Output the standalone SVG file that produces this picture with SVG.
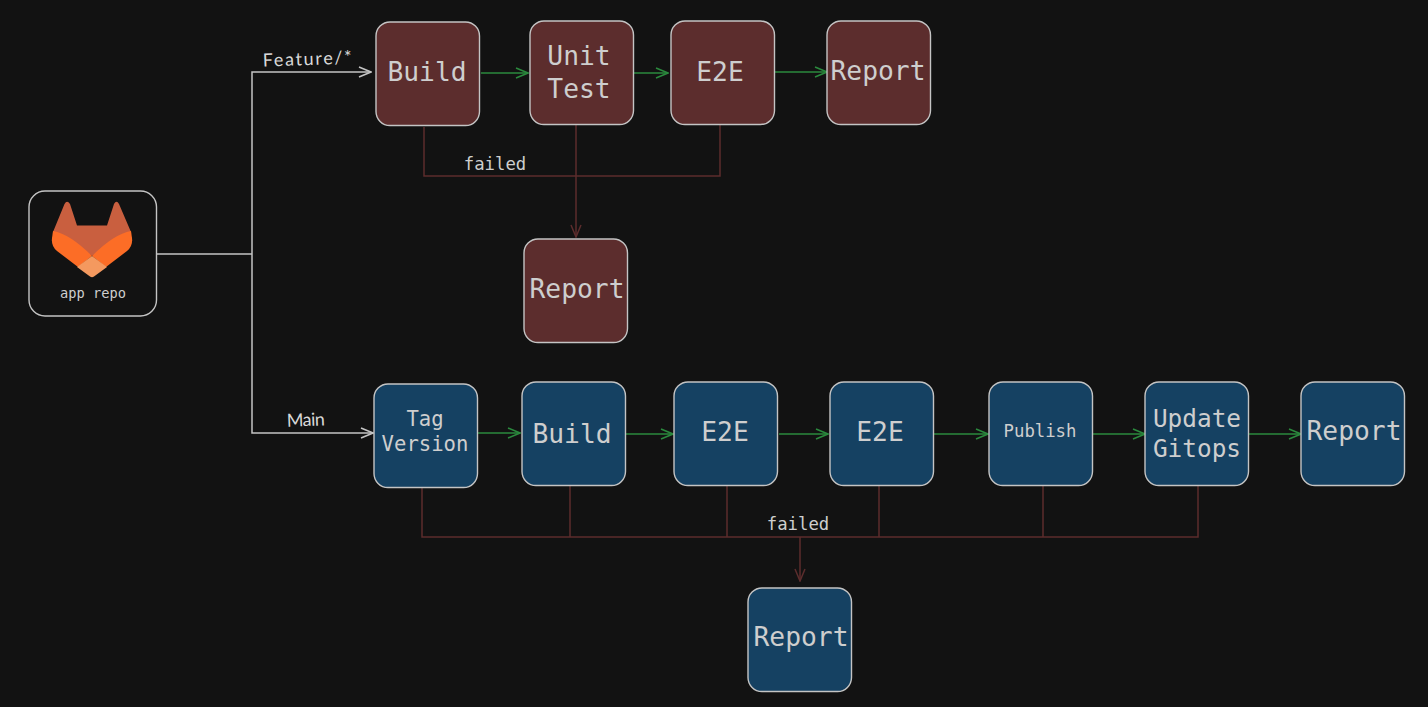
<svg xmlns="http://www.w3.org/2000/svg" width="1428" height="707" viewBox="0 0 1428 707">
<style>
.n{stroke:#c4c4c4;stroke-width:1.4}
.r{fill:#5c2d2d}
.b{fill:#154162}
text{fill:#cecece;font-family:"DejaVu Sans Mono","Liberation Mono",monospace;text-anchor:middle}
.t26{font-size:26.300px}
.t24{font-size:24.400px}
.t20{font-size:20.600px}
.t17{font-size:17.300px}
.hand{font-family:"Lato","Noto Sans",sans-serif;font-size:18px;fill:#d8d8d8}
.w{fill:none;stroke:#c4c4c4;stroke-width:1.5}
.g{fill:none;stroke:#2b8a3e;stroke-width:1.5}
.d{fill:none;stroke:#5c2d2d;stroke-width:1.5}
</style>
<defs>
<marker id="aw" markerUnits="userSpaceOnUse" viewBox="0 0 14 12" refX="13" refY="6" markerWidth="14" markerHeight="12" orient="auto"><path d="M1 1 L13 6 L1 11" fill="none" stroke="#c4c4c4" stroke-width="1.5"/></marker>
<marker id="ag" markerUnits="userSpaceOnUse" viewBox="0 0 14 12" refX="13" refY="6" markerWidth="14" markerHeight="12" orient="auto"><path d="M1 1 L13 6 L1 11" fill="none" stroke="#2b8a3e" stroke-width="1.5"/></marker>
<marker id="ad" markerUnits="userSpaceOnUse" viewBox="0 0 14 12" refX="13" refY="6" markerWidth="14" markerHeight="12" orient="auto"><path d="M1 1 L13 6 L1 11" fill="none" stroke="#5c2d2d" stroke-width="1.5"/></marker>
</defs>
<rect width="1428" height="707" fill="#121212"/>
<g id="connectors">
<path class="w" d="M157 254 H252"/>
<path class="w" d="M252 254 V72 H371" marker-end="url(#aw)"/>
<path class="w" d="M252 254 V433 H373" marker-end="url(#aw)"/>
<path class="g" d="M481 73 H528" marker-end="url(#ag)"/>
<path class="g" d="M634 73 H668" marker-end="url(#ag)"/>
<path class="g" d="M775 72 H827" marker-end="url(#ag)"/>
<path class="g" d="M477 433 H520" marker-end="url(#ag)"/>
<path class="g" d="M626 434 H673" marker-end="url(#ag)"/>
<path class="g" d="M779 434 H828" marker-end="url(#ag)"/>
<path class="g" d="M934 434 H988" marker-end="url(#ag)"/>
<path class="g" d="M1093 434 H1145" marker-end="url(#ag)"/>
<path class="g" d="M1249 434 H1301" marker-end="url(#ag)"/>
<path class="d" d="M424 127 V176 H720 V125"/>
<path class="d" d="M576 125 V237" marker-end="url(#ad)"/>
<path class="d" d="M422 488 V537 H1198 V486"/>
<path class="d" d="M570 486 V537"/>
<path class="d" d="M727 486 V537"/>
<path class="d" d="M879 486 V537"/>
<path class="d" d="M1043 486 V537"/>
<path class="d" d="M800 537 V581" marker-end="url(#ad)"/>
<text class="hand" x="307.500" y="65" textLength="89" lengthAdjust="spacing" transform="rotate(-2 308 64)">Feature/*</text>
<text class="hand" x="306" y="426" textLength="38" lengthAdjust="spacing" transform="rotate(-2 306 426)">Main</text>
<text class="t17" x="495" y="170">failed</text>
<text class="t17" x="798" y="530">failed</text>
</g>
<g id="node-app-repo">
<rect x="29" y="191" width="127.500" height="125" rx="16" fill="#121212" class="n"/>
<path d="M53 232 L64.500 204 Q67 199.500 70 204 L77 225.500 H107 L114 204 Q116.500 199.500 119 204 L131 232 L92 256 Z" fill="#c95f3f"/>
<path d="M53 231 Q70 234 92 256 L78 267 L57 251 Q51 246 52 238 Z" fill="#fc6d26"/>
<path d="M131 231 Q114 234 92 256 L106 267 L127 251 Q133 246 132 238 Z" fill="#fc6d26"/>
<path d="M92 256 L107 267 L94 276.500 Q92 278 90 276.500 L77 267 Z" fill="#f4995f"/>
<text x="93" y="298" font-size="13.700">app repo</text>
</g>
<g id="node-build-f"><rect class="n r" x="376" y="22" width="103.500" height="103.500" rx="14"/><text class="t26" x="427" y="81">Build</text></g>
<g id="node-unit-test"><rect class="n r" x="530" y="21" width="103.500" height="103.500" rx="14"/><text class="t26" x="579" y="65">Unit</text><text class="t26" x="579" y="98">Test</text></g>
<g id="node-e2e-f"><rect class="n r" x="671" y="21" width="103.500" height="103.500" rx="14"/><text class="t26" x="720" y="81">E2E</text></g>
<g id="node-report-f"><rect class="n r" x="827" y="21" width="103.500" height="103.500" rx="14"/><text class="t26" x="878" y="80">Report</text></g>
<g id="node-report-ff"><rect class="n r" x="524" y="239" width="103.500" height="103.500" rx="14"/><text class="t26" x="577" y="298">Report</text></g>
<g id="node-tag"><rect class="n b" x="374" y="384" width="103.500" height="103.500" rx="14"/><text class="t20" x="425" y="426">Tag</text><text class="t20" x="425" y="451">Version</text></g>
<g id="node-build-m"><rect class="n b" x="522" y="382" width="103.500" height="103.500" rx="14"/><text class="t26" x="572" y="443">Build</text></g>
<g id="node-e2e-m1"><rect class="n b" x="674" y="382" width="103.500" height="103.500" rx="14"/><text class="t26" x="725" y="441">E2E</text></g>
<g id="node-e2e-m2"><rect class="n b" x="830" y="382" width="103.500" height="103.500" rx="14"/><text class="t26" x="880" y="441">E2E</text></g>
<g id="node-publish"><rect class="n b" x="989" y="382" width="103.500" height="103.500" rx="14"/><text class="t17" x="1040" y="437">Publish</text></g>
<g id="node-gitops"><rect class="n b" x="1145" y="382" width="103.500" height="103.500" rx="14"/><text class="t24" x="1197" y="427">Update</text><text class="t24" x="1197" y="457">Gitops</text></g>
<g id="node-report-m"><rect class="n b" x="1301" y="382" width="103.500" height="103.500" rx="14"/><text class="t26" x="1354" y="440">Report</text></g>
<g id="node-report-mf"><rect class="n b" x="748" y="588" width="103.500" height="103.500" rx="14"/><text class="t26" x="801" y="646">Report</text></g>
</svg>
